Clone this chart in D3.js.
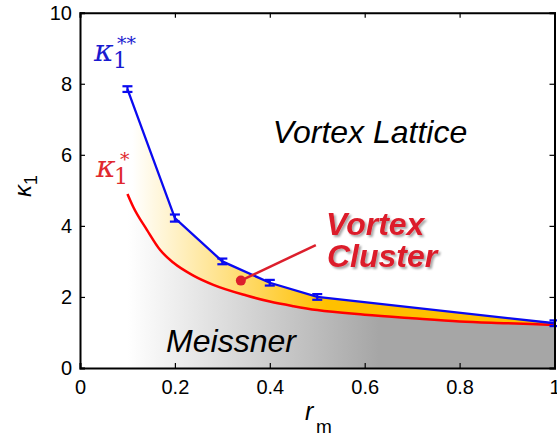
<!DOCTYPE html>
<html><head><meta charset="utf-8">
<script src="https://cdn.jsdelivr.net/npm/d3@7"></script>
<style>body{margin:0;background:#fff}svg{display:block}</style>
</head><body>
<svg id="c" width="557" height="441"></svg>
<script>
const rBlue = [0.1, 0.2, 0.3, 0.4, 0.5, 1.0];
const kBlue = [7.85, 4.22, 3.0, 2.4, 2.0, 1.26];
const errBlue = [0.08, 0.1, 0.08, 0.08, 0.08, 0.08];
const rRed = [0.1, 0.112, 0.141, 0.169, 0.197, 0.239, 0.281, 0.351, 0.4, 0.45, 0.5, 0.6, 0.7, 0.8, 0.9, 1.0];
const kRed = [4.9, 4.54, 3.89, 3.32, 2.96, 2.6, 2.34, 2.04, 1.87, 1.74, 1.63, 1.5, 1.4, 1.31, 1.26, 1.21];
const xTicks = [0, 0.2, 0.4, 0.6, 0.8, 1];
const xTickLabels = ["0", "0.2", "0.4", "0.6", "0.8", "1"];
const yTicks = [0, 2, 4, 6, 8, 10];
const yTickLabels = ["0", "2", "4", "6", "8", "10"];
const clusterPoint = [0.339, 2.46];
const clusterLineEnd = [0.497, 3.46];

const svg = d3.select("#c");
const x = d3.scaleLinear().domain([0, 1]).range([80, 554.5]);
const y = d3.scaleLinear().domain([0, 10]).range([368, 12.7]);
const font = "'Liberation Sans', Arial, sans-serif";
const serif = "'DejaVu Serif', 'Liberation Serif', serif";

const defs = svg.append("defs");
const gy = defs.append("linearGradient").attr("id", "gy").attr("gradientUnits", "userSpaceOnUse")
  .attr("x1", x(0.11)).attr("x2", x(0.52)).attr("y1", 0).attr("y2", 0);
gy.append("stop").attr("offset", 0).attr("stop-color", "#ffffff");
gy.append("stop").attr("offset", 1).attr("stop-color", "#ffc000");
const gg = defs.append("linearGradient").attr("id", "gg").attr("gradientUnits", "userSpaceOnUse")
  .attr("x1", x(0.1)).attr("x2", x(0.63)).attr("y1", 0).attr("y2", 0);
gg.append("stop").attr("offset", 0).attr("stop-color", "#ffffff");
gg.append("stop").attr("offset", 1).attr("stop-color", "#a6a6a6");
const sh = defs.append("filter").attr("id", "sh").attr("x", "-10%").attr("y", "-10%").attr("width", "130%").attr("height", "140%");
sh.append("feDropShadow").attr("dx", 2).attr("dy", 2).attr("stdDeviation", 1.2).attr("flood-color", "#000").attr("flood-opacity", 0.35);

const blue = rBlue.map((r, i) => [r, kBlue[i], errBlue[i]]);
const red = rRed.map((r, i) => [r, kRed[i]]);

svg.append("path").datum(blue)
  .attr("d", d3.area().x(d => x(d[0])).y0(y(0)).y1(d => y(d[1])))
  .attr("fill", "url(#gy)");
svg.append("path").datum(red)
  .attr("d", d3.area().curve(d3.curveMonotoneX).x(d => x(d[0])).y0(y(0)).y1(d => y(d[1])))
  .attr("fill", "url(#gg)");

svg.append("path").datum(red)
  .attr("d", d3.line().curve(d3.curveMonotoneX).x(d => x(d[0])).y(d => y(d[1])))
  .attr("fill", "none").attr("stroke", "#ff0000").attr("stroke-width", 2.5);

svg.append("path").datum(blue)
  .attr("d", d3.line().x(d => x(d[0])).y(d => y(d[1])))
  .attr("fill", "none").attr("stroke", "#0a0af0").attr("stroke-width", 2.3);
const eb = svg.append("g").attr("stroke", "#0a0af0").attr("stroke-width", 2.2);
blue.forEach(d => {
  const cx = x(d[0]);
  eb.append("line").attr("x1", cx).attr("x2", cx).attr("y1", y(d[1] - d[2])).attr("y2", y(d[1] + d[2]));
  eb.append("line").attr("x1", cx - 5).attr("x2", cx + 5).attr("y1", y(d[1] - d[2])).attr("y2", y(d[1] - d[2]));
  eb.append("line").attr("x1", cx - 5).attr("x2", cx + 5).attr("y1", y(d[1] + d[2])).attr("y2", y(d[1] + d[2]));
});

const tickLen = 5;
const gB = svg.append("g").attr("transform", `translate(0,${y(0)})`)
  .call(d3.axisBottom(x).tickValues(xTicks).tickSize(-tickLen).tickPadding(12).tickFormat((d, i) => xTickLabels[i]));
const gT = svg.append("g").attr("transform", `translate(0,${y(10)})`)
  .call(d3.axisTop(x).tickValues(xTicks).tickSize(-tickLen).tickFormat(""));
const gL = svg.append("g").attr("transform", `translate(${x(0)},0)`)
  .call(d3.axisLeft(y).tickValues(yTicks).tickSize(-tickLen).tickPadding(8).tickFormat((d, i) => yTickLabels[i]));
const gR = svg.append("g").attr("transform", `translate(${x(1)},0)`)
  .call(d3.axisRight(y).tickValues(yTicks).tickSize(-tickLen).tickFormat(""));
[gB, gT, gL, gR].forEach(g => {
  g.select(".domain").attr("stroke", "#000").attr("stroke-width", 2);
  g.selectAll(".tick line").attr("stroke", "#000").attr("stroke-width", 1.2);
  g.selectAll("text").attr("font-family", font).attr("font-size", 20).attr("fill", "#000");
});
gB.selectAll(".tick text").attr("dy", "0.72em");

svg.append("text").attr("transform", "translate(31,186) rotate(-90)")
  .attr("text-anchor", "middle").attr("font-family", font).attr("font-size", 24)
  .html('<tspan font-style="italic">κ</tspan><tspan font-size="18" dy="6">1</tspan>');
svg.append("text").attr("x", 305).attr("y", 420).attr("font-family", font).attr("font-size", 25)
  .attr("font-style", "italic").text("r");
svg.append("text").attr("x", 316).attr("y", 433).attr("font-family", font).attr("font-size", 19).text("m");

function kLabel(color, kx, ky, sx, sy, px, py, stars) {
  const g = svg.append("g").attr("fill", color).attr("font-family", serif);
  g.append("text").attr("x", kx).attr("y", ky).attr("font-size", 30).attr("font-style", "italic").text("κ");
  g.append("text").attr("x", sx).attr("y", sy).attr("font-size", 22).text("1");
  g.append("text").attr("x", px).attr("y", py).attr("font-size", 19).text(stars);
}
kLabel("#1a1ad0", 94, 61, 113, 68, 117, 50, "**");
kLabel("#e0282e", 96, 177, 114, 184, 120, 166, "*");

svg.append("text").attr("x", 370).attr("y", 143).attr("text-anchor", "middle")
  .attr("font-family", font).attr("font-style", "italic").attr("font-size", 32).text("Vortex Lattice");
svg.append("text").attr("x", 231).attr("y", 352).attr("text-anchor", "middle")
  .attr("font-family", font).attr("font-style", "italic").attr("font-size", 32).text("Meissner");

svg.append("line").attr("x1", x(clusterPoint[0])).attr("y1", y(clusterPoint[1]))
  .attr("x2", x(clusterLineEnd[0])).attr("y2", y(clusterLineEnd[1]))
  .attr("stroke", "#dc1f2c").attr("stroke-width", 2.5);
svg.append("circle").attr("cx", x(clusterPoint[0])).attr("cy", y(clusterPoint[1])).attr("r", 5)
  .attr("fill", "#dc1f2c");
const vc = svg.append("g").attr("filter", "url(#sh)").attr("fill", "#dc1f2c")
  .attr("font-family", font).attr("font-style", "italic").attr("font-weight", "bold").attr("font-size", 32);
vc.append("text").attr("x", 326).attr("y", 235).text("Vortex");
vc.append("text").attr("x", 327).attr("y", 267).text("Cluster");
</script>
</body></html>
